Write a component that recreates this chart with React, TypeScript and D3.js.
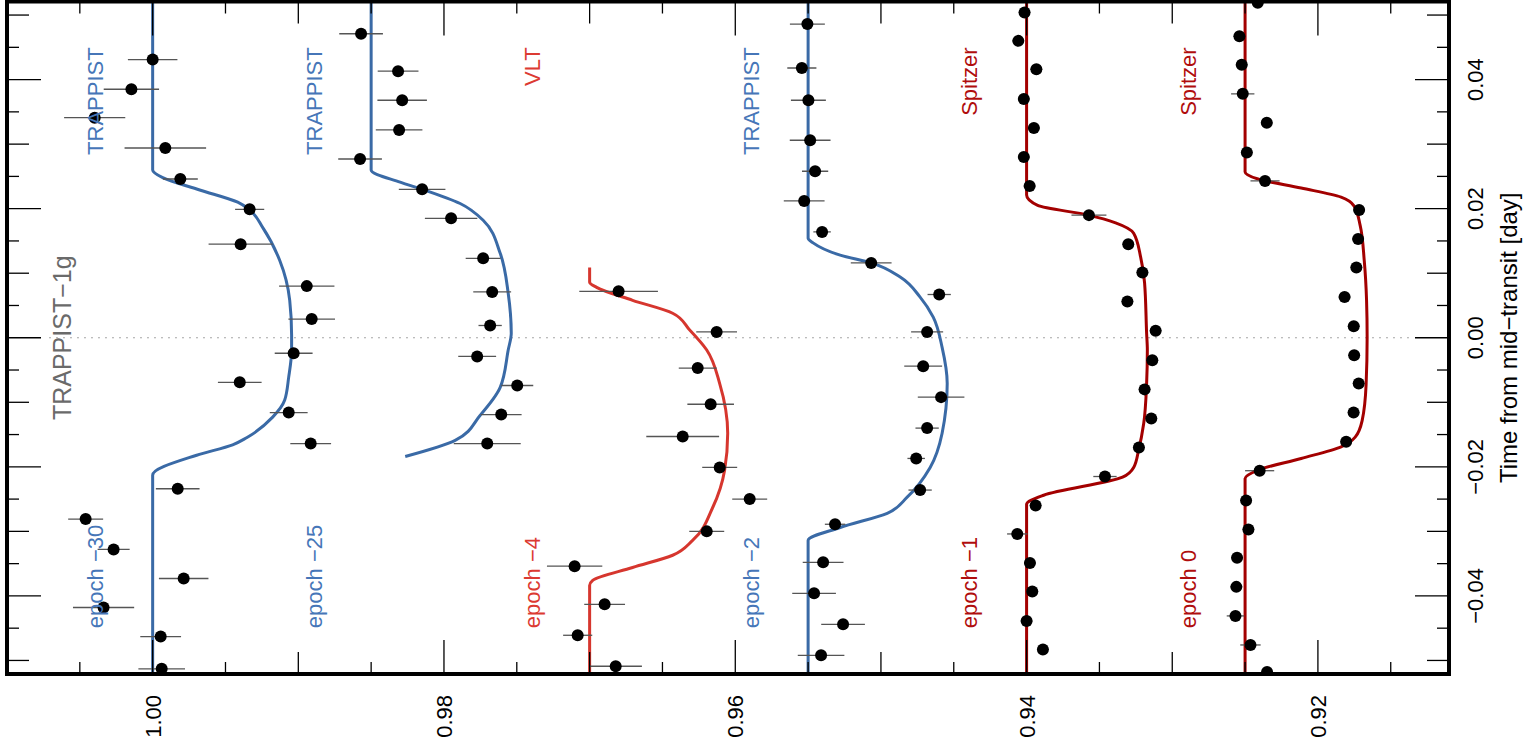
import React from "react";
import * as d3 from "d3";

const W = 1527;
const H = 754;

const epochLabels = ["epoch −30", "epoch −25", "epoch −4", "epoch −2", "epoch −1", "epoch 0"];
const instruments = ["TRAPPIST", "TRAPPIST", "VLT", "TRAPPIST", "Spitzer", "Spitzer"];
const fluxOffsets = [0, 0.015, 0.03, 0.045, 0.06, 0.075];
const instrumentColors: Record<string, string> = {
  TRAPPIST: "#3a6aa6",
  VLT: "#d6362e",
  Spitzer: "#a30000",
};
const instrumentTextColors: Record<string, string> = {
  TRAPPIST: "#4676b8",
  VLT: "#dc3a32",
  Spitzer: "#b00d0d",
};

// ---- epoch -30 (TRAPPIST) ----
const timeE30 = [0.0431, 0.0385, 0.0341, 0.0294, 0.0246, 0.0199, 0.0145, 0.008, 0.0029, -0.0024, -0.0069, -0.0116, -0.0164, -0.0234, -0.0281, -0.0328, -0.0373, -0.0418, -0.0463, -0.0513];
const fluxE30 = [1.0, 1.00146, 1.00398, 0.99913, 0.9981, 0.99334, 0.99396, 0.98942, 0.98908, 0.99032, 0.99402, 0.99066, 0.98915, 0.99828, 1.0046, 1.00268, 0.99787, 1.00337, 0.99945, 0.99938];
const errE30 = [0.0017, 0.0019, 0.0021, 0.0028, 0.0012, 0.001, 0.0022, 0.0019, 0.0016, 0.0013, 0.0015, 0.0013, 0.0014, 0.0015, 0.0012, 0.0011, 0.0017, 0.0021, 0.0014, 0.0016];
const modelTimeE30 = [0.0521, 0.026, 0.0248, 0.0229, 0.021, 0.0198, 0.0171, 0.012, 0.0058, 0.0004, -0.0019, -0.0061, -0.0097, -0.0123, -0.0155, -0.0166, -0.0182, -0.0213, -0.0521];
const modelFluxE30 = [1, 1, 0.99931, 0.99677, 0.99416, 0.99334, 0.99245, 0.99128, 0.99059, 0.99046, 0.99046, 0.99066, 0.99094, 0.99176, 0.99355, 0.99451, 0.99698, 1, 1];

// ---- epoch -25 (TRAPPIST) ----
const timeE25 = [0.0471, 0.0413, 0.0368, 0.0322, 0.0277, 0.023, 0.0185, 0.0123, 0.0071, 0.0019, -0.0029, -0.0074, -0.0119, -0.0164];
const fluxE25 = [1.00069, 0.99815, 0.99787, 0.99808, 1.00076, 0.9965, 0.99451, 0.99231, 0.99169, 0.99183, 0.99272, 0.98997, 0.99107, 0.99203];
const errE25 = [0.0015, 0.0014, 0.0017, 0.0016, 0.0015, 0.0016, 0.0018, 0.0012, 0.0013, 0.0008, 0.0013, 0.0011, 0.0014, 0.0023];
const modelTimeE25 = [0.0521, 0.026, 0.0241, 0.023, 0.0208, 0.0182, 0.0131, 0.0069, 0.0007, -0.0019, -0.0077, -0.012, -0.0159, -0.0184];
const modelFluxE25 = [1, 1, 0.99801, 0.9965, 0.99389, 0.99231, 0.99114, 0.99059, 0.99038, 0.99059, 0.99114, 0.99251, 0.99423, 0.99766];

// ---- epoch -4 (VLT) ----
const timeE4 = [0.0072, 0.0009, -0.0047, -0.0103, -0.0153, -0.0201, -0.025, -0.03, -0.0354, -0.0413, -0.0461, -0.0509];
const fluxE4 = [0.99801, 0.99128, 0.99258, 0.99169, 0.99361, 0.99107, 0.98901, 0.99196, 1.00103, 0.99897, 1.00082, 0.99821];
const errE4 = [0.0027, 0.0014, 0.0013, 0.0016, 0.0025, 0.0012, 0.0012, 0.0012, 0.0019, 0.0014, 0.001, 0.0018];
const modelTimeE4 = [0.0109, 0.0086, 0.0078, 0.0058, 0.0038, 0.0012, -0.0019, -0.0071, -0.0148, -0.0205, -0.0263, -0.0314, -0.0337, -0.0356, -0.0376, -0.0384, -0.0521];
const modelFluxE4 = [1, 1, 0.99952, 0.99705, 0.9943, 0.99313, 0.99196, 0.99107, 0.99052, 0.99073, 0.99155, 0.99293, 0.9943, 0.99705, 0.99979, 1, 1];

// ---- epoch -2 (TRAPPIST) ----
const timeE2 = [0.0486, 0.0418, 0.0368, 0.0306, 0.0258, 0.0212, 0.0164, 0.0116, 0.0067, 0.0009, -0.0044, -0.0092, -0.014, -0.0187, -0.0236, -0.0289, -0.0348, -0.0396, -0.0444, -0.0492];
const fluxE2 = [1.00005, 1.00043, 0.99998, 0.99986, 0.99952, 1.00027, 0.99904, 0.99567, 0.991, 0.99183, 0.9921, 0.99087, 0.99183, 0.99258, 0.99231, 0.99815, 0.99897, 0.99959, 0.9976, 0.99911];
const errE2 = [0.0012, 0.001, 0.0012, 0.0014, 0.0009, 0.0014, 0.0006, 0.0014, 0.0008, 0.0011, 0.0013, 0.0016, 0.0008, 0.0006, 0.0008, 0.0007, 0.0014, 0.0015, 0.0015, 0.0016];
const modelTimeE2 = [0.0521, 0.0154, 0.0147, 0.0128, 0.0116, 0.0094, 0.0063, 0.0032, -0.0015, -0.0071, -0.0148, -0.0201, -0.0247, -0.0272, -0.0294, -0.0314, -0.0521];
const modelFluxE2 = [1, 1, 0.99966, 0.9978, 0.99567, 0.99368, 0.99231, 0.99141, 0.9908, 0.99045, 0.9908, 0.99162, 0.9932, 0.99457, 0.9978, 1, 1];

// ---- epoch -1 (Spitzer) ----
const timeE1 = [0.0504, 0.046, 0.0416, 0.037, 0.0325, 0.028, 0.0235, 0.019, 0.0145, 0.0101, 0.0056, 0.0011, -0.0035, -0.008, -0.0125, -0.017, -0.0215, -0.026, -0.0304, -0.0349, -0.0393, -0.0439, -0.0483];
const fluxE1 = [1.00014, 1.00057, 0.99933, 1.00019, 0.9995, 1.00019, 0.99979, 0.99572, 0.99302, 0.99205, 0.99308, 0.99114, 0.99137, 0.9919, 0.99144, 0.99229, 0.99462, 0.99938, 1.00064, 0.99977, 0.99961, 1.0, 0.99888];
const errE1 = [0.0004, 0.0004, 0.0004, 0.0004, 0.0004, 0.0004, 0.0004, 0.0012, 0.0004, 0.0004, 0.0004, 0.0004, 0.0004, 0.0004, 0.0004, 0.0004, 0.0008, 0.0004, 0.0007, 0.0004, 0.0004, 0.0004, 0.0004];
const modelTimeE1 = [0.0521, 0.0221, 0.0205, 0.019, 0.0178, 0.0162, 0.0125, 0.0085, 0.0007, -0.0019, -0.0071, -0.0133, -0.0174, -0.0201, -0.0216, -0.0244, -0.0258, -0.0521];
const modelFluxE1 = [1, 1, 0.99924, 0.99574, 0.99389, 0.99265, 0.99217, 0.9919, 0.99176, 0.99171, 0.99176, 0.99196, 0.99231, 0.99265, 0.99341, 0.99883, 1, 1];

// ---- epoch 0 (Spitzer) ----
const timeE0 = [0.0519, 0.0467, 0.0423, 0.0378, 0.0333, 0.0287, 0.0243, 0.0198, 0.0153, 0.0109, 0.0063, 0.0018, -0.0027, -0.0071, -0.0116, -0.0161, -0.0206, -0.0252, -0.0297, -0.0341, -0.0386, -0.0431, -0.0476, -0.0518];
const fluxE0 = [0.99913, 1.00039, 1.00023, 1.00016, 0.99851, 0.99988, 0.99863, 0.99217, 0.99224, 0.99236, 0.99317, 0.99254, 0.99251, 0.9922, 0.99255, 0.99306, 0.999, 0.99993, 0.99977, 1.00055, 1.0006, 1.00066, 0.99963, 0.99849];
const errE0 = [0.0004, 0.0004, 0.0004, 0.0008, 0.0004, 0.0004, 0.001, 0.0004, 0.0004, 0.0004, 0.0004, 0.0004, 0.0004, 0.0004, 0.0004, 0.0004, 0.001, 0.0004, 0.0004, 0.0004, 0.0004, 0.0006, 0.0007, 0.0004];
const modelTimeE0 = [0.0521, 0.0257, 0.0246, 0.0232, 0.0218, 0.0204, 0.0174, 0.012, 0.0058, 0.0001, -0.0072, -0.0128, -0.0154, -0.0169, -0.0187, -0.0205, -0.0218, -0.0521];
const modelFluxE0 = [1, 1, 0.99911, 0.99615, 0.99341, 0.99251, 0.9921, 0.99182, 0.99166, 0.99162, 0.99169, 0.99196, 0.99244, 0.99341, 0.99615, 0.99911, 1, 1];

const fluxTickLabels = [1.0, 0.98, 0.96, 0.94, 0.92];
const timeTickLabels = [0.04, 0.02, 0.0, -0.02, -0.04];

const series = [
  { t: timeE30, f: fluxE30, e: errE30, mt: modelTimeE30, mf: modelFluxE30 },
  { t: timeE25, f: fluxE25, e: errE25, mt: modelTimeE25, mf: modelFluxE25 },
  { t: timeE4, f: fluxE4, e: errE4, mt: modelTimeE4, mf: modelFluxE4 },
  { t: timeE2, f: fluxE2, e: errE2, mt: modelTimeE2, mf: modelFluxE2 },
  { t: timeE1, f: fluxE1, e: errE1, mt: modelTimeE1, mf: modelFluxE1 },
  { t: timeE0, f: fluxE0, e: errE0, mt: modelTimeE0, mf: modelFluxE0 },
];

const FONT = "'Liberation Sans', Arial, Helvetica, sans-serif";

export default function App() {
  const left = 7, right = 1449, top = 1.5, bottom = 674;
  const x = d3.scaleLinear().domain([1.01, 0.911]).range([left, right]);
  const y = d3.scaleLinear().domain([0.0521, -0.0521]).range([top, bottom]);
  const fmt = d3.format(".2f");

  const line = d3
    .line<[number, number]>()
    .x((d) => x(d[1]))
    .y((d) => y(d[0]))
    .curve(d3.curveMonotoneY);

  const tickLen = (v: number) => {
    const k = Math.round(Math.abs(v) * 1000);
    if (k % 20 === 0) return 34;
    if (k % 10 === 0) return 22;
    return 12;
  };
  const timeTicks = d3.range(-0.05, 0.0501, 0.005).map((v) => Math.round(v * 1000) / 1000);
  const fluxTicks = d3.range(0.915, 1.0051, 0.005).map((v) => Math.round(v * 1000) / 1000);

  const labelShift = 0.0034;

  return (
    <svg
      width={W}
      height={H}
      style={{ position: "absolute", left: 0, top: 0, background: "#fff" }}
      fontFamily={FONT}
    >
      <defs>
        <clipPath id="plotclip">
          <rect x={left} y={top} width={right - left} height={bottom - top} />
        </clipPath>
      </defs>
      <rect x={0} y={0} width={W} height={H} fill="#fff" />

      {/* zero line */}
      <line
        x1={x(1.0071)}
        x2={x(0.9136)}
        y1={y(0)}
        y2={y(0)}
        stroke="#888"
        strokeWidth={1}
        strokeDasharray="1.5,5.5"
      />

      <g clipPath="url(#plotclip)">
        {series.map((s, i) => {
          const off = fluxOffsets[i];
          const col = instrumentColors[instruments[i]];
          const pts: [number, number][] = s.mt.map((t, j) => [t, s.mf[j] - off]);
          return (
            <path
              key={"m" + i}
              d={line(pts) || ""}
              fill="none"
              stroke={col}
              strokeWidth={3}
              strokeLinejoin="round"
            />
          );
        })}
        {series.map((s, i) => {
          const off = fluxOffsets[i];
          return (
            <g key={"d" + i}>
              {s.t.map((t, j) => (
                <line
                  key={"e" + j}
                  x1={x(s.f[j] - off - s.e[j])}
                  x2={x(s.f[j] - off + s.e[j])}
                  y1={y(t)}
                  y2={y(t)}
                  stroke="#555"
                  strokeWidth={1.3}
                />
              ))}
              {s.t.map((t, j) => (
                <circle key={"c" + j} cx={x(s.f[j] - off)} cy={y(t)} r={6} fill="#000" />
              ))}
            </g>
          );
        })}
      </g>

      {/* in-plot labels */}
      {series.map((s, i) => {
        const off = fluxOffsets[i];
        const col = instrumentTextColors[instruments[i]];
        const lx = x(1 - off + labelShift);
        return (
          <g key={"l" + i} fill={col} fontSize={22}>
            <text transform={`translate(${lx},${y(0.045)}) rotate(-90)`} textAnchor="end">
              {instruments[i]}
            </text>
            <text transform={`translate(${lx},${y(-0.045)}) rotate(-90)`} textAnchor="start">
              {epochLabels[i]}
            </text>
          </g>
        );
      })}
      <text
        transform={`translate(${x(1.0056)},${y(0)}) rotate(-90)`}
        textAnchor="middle"
        fontSize={25}
        fill="#6a6a6a"
      >
        TRAPPIST−1g
      </text>

      {/* ticks */}
      <g stroke="#000" strokeWidth={1.3}>
        {timeTicks.map((v) => (
          <g key={"tt" + v}>
            <line x1={left} x2={left + tickLen(v)} y1={y(v)} y2={y(v)} />
            <line x1={right} x2={right - tickLen(v)} y1={y(v)} y2={y(v)} />
          </g>
        ))}
        {fluxTicks.map((v) => (
          <g key={"ft" + v}>
            <line x1={x(v)} x2={x(v)} y1={top} y2={top + tickLen(v)} />
            <line x1={x(v)} x2={x(v)} y1={bottom} y2={bottom - tickLen(v)} />
          </g>
        ))}
      </g>

      {/* frame */}
      <rect
        x={left}
        y={top}
        width={right - left}
        height={bottom - top}
        fill="none"
        stroke="#000"
        strokeWidth={4}
      />

      {/* axis labels */}
      <g fontSize={22} fill="#000">
        {fluxTickLabels.map((v) => (
          <text
            key={"fl" + v}
            transform={`translate(${x(v) + 8},${bottom + 21}) rotate(-90)`}
            textAnchor="end"
          >
            {fmt(v)}
          </text>
        ))}
        {timeTickLabels.map((v) => (
          <text
            key={"tl" + v}
            transform={`translate(${right + 34},${y(v)}) rotate(-90)`}
            textAnchor="middle"
          >
            {fmt(v)}
          </text>
        ))}
      </g>
      <text
        transform={`translate(${right + 68},${y(0)}) rotate(-90)`}
        textAnchor="middle"
        fontSize={24}
        fill="#000"
      >
        Time from mid−transit [day]
      </text>
    </svg>
  );
}
